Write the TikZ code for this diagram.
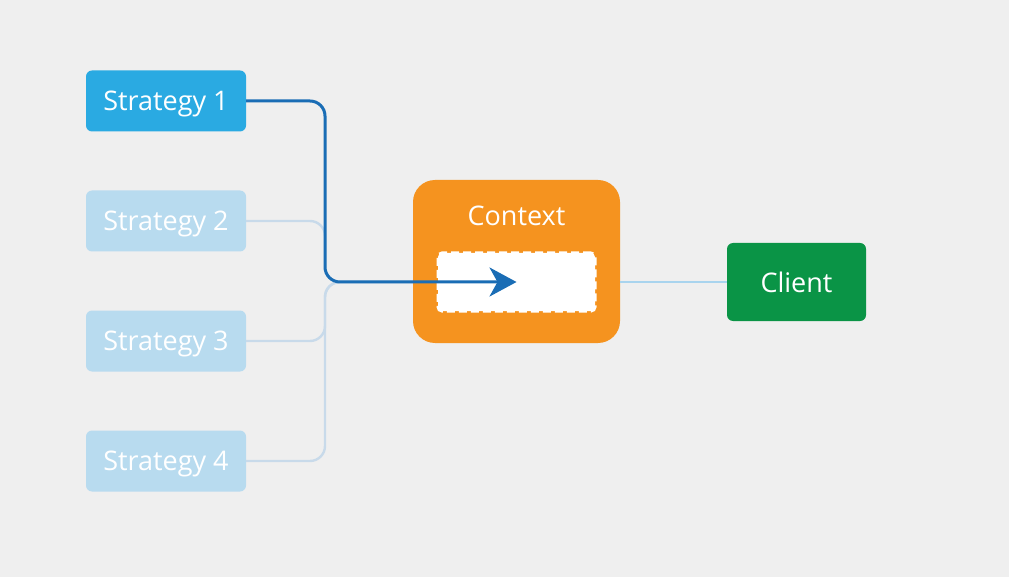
\documentclass[tikz,border=0pt]{standalone}
\usepackage{fontspec}
\setmainfont{Open Sans}
\usetikzlibrary{positioning,arrows.meta}

\definecolor{bgray}{HTML}{EFEFEF}
\definecolor{stratblue}{HTML}{2AAAE2}
\definecolor{stratfaint}{HTML}{B8DBEF}
\definecolor{flowblue}{HTML}{1A6DB5}
\definecolor{linefaint}{HTML}{C8DAEA}
\definecolor{linelight}{HTML}{A9D4EE}
\definecolor{ctxorange}{HTML}{F5931F}
\definecolor{clientgreen}{HTML}{0A9446}

\begin{document}
\begin{tikzpicture}
		[x=1pt, y=-1pt,
		box/.style={rounded corners=6pt, text=white, font=\fontsize{27}{30}\selectfont,
			minimum width=160pt, minimum height=61pt, inner sep=0pt, text depth=0pt},
		strat/.style={box, fill=stratblue},
		stratoff/.style={box, fill=stratfaint},
		faint/.style={linefaint, line width=2.4pt, rounded corners=15pt},
		flow/.style={flowblue, line width=3pt, rounded corners=15pt}]
		\fill[bgray] (0,0) rectangle (1009,577);
		\useasboundingbox (0,0) rectangle (1009,577);

		\node[strat] (s1) at (166,101) {Strategy 1};
		\node[stratoff] (s2) at (166,221) {Strategy 2};
		\node[stratoff] (s3) at (166,341) {Strategy 3};
		\node[stratoff] (s4) at (166,461) {Strategy 4};

		\node[fill=ctxorange, rounded corners=22pt, minimum width=207pt, minimum height=163pt] (ctx) at (516.5,261.5) {};
		\node[text=white, font=\fontsize{27}{30}\selectfont] (ctxlabel) at (516.5,216) {Context};
		\node[fill=white, draw=white, line width=3pt, dash pattern=on 8pt off 4pt, rounded corners=4pt,
			minimum width=157pt, minimum height=58pt] (slot) at (516.5,282) {};

		\node[box, fill=clientgreen, minimum width=139pt, minimum height=78pt] (client) at (796.5,282) {Client};

		\coordinate (j) at (325,282);
		\draw[faint] (s2.east) -| (j) -- (j -| ctx.west);
		\draw[faint] (s3.east) -| (j) -- (j -| ctx.west);
		\draw[faint] (s4.east) -| (j) -- (j -| ctx.west);
		\draw[linelight, line width=2.4pt] (client.west -| ctx.east) -- (client.west);

		\draw[flow, -{Stealth[length=27pt, width=29pt, inset=8pt]}] (s1.east) -| (j) -- (slot.center);
	\end{tikzpicture}
\end{document}
